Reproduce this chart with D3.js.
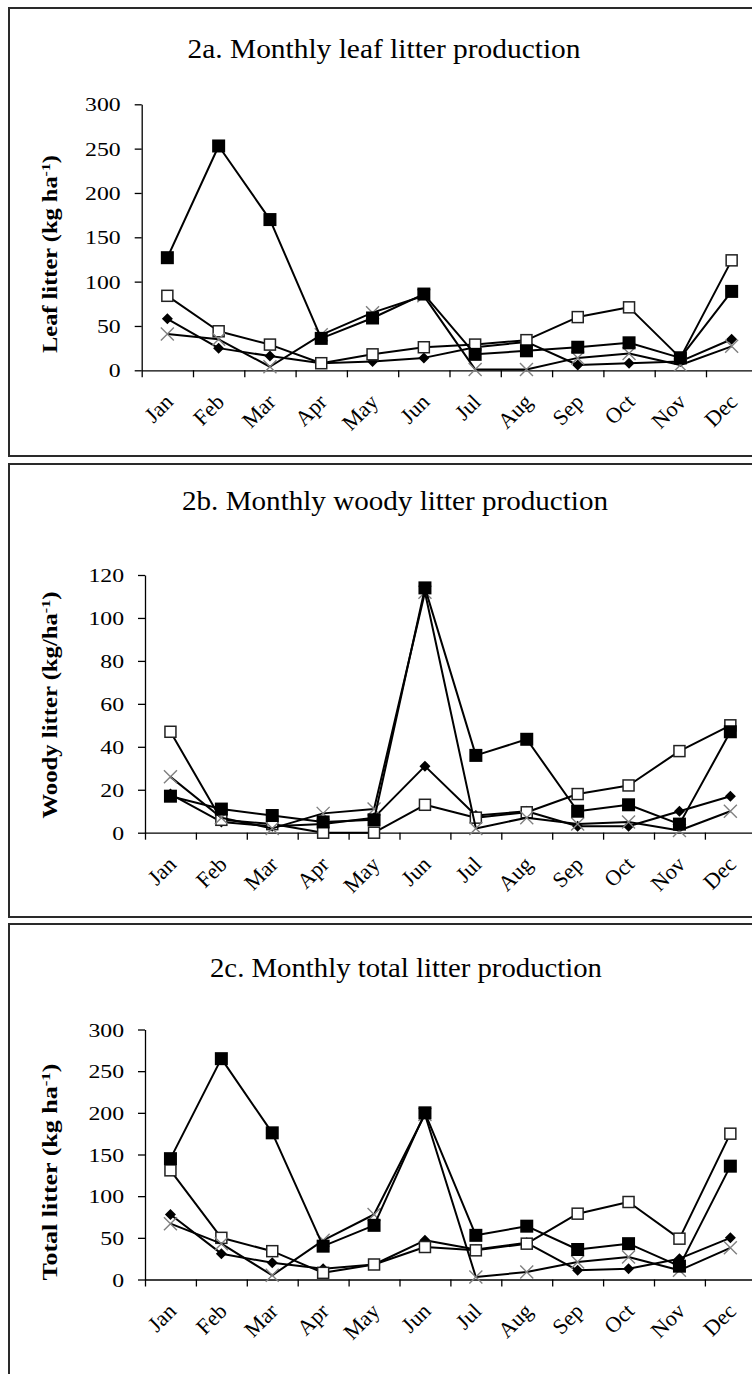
<!DOCTYPE html>
<html><head><meta charset="utf-8">
<script src="https://cdn.jsdelivr.net/npm/d3@7/dist/d3.min.js"></script>
<style>
body{margin:0;background:#fff}
svg{display:block}
text{font-family:"Liberation Serif","Times New Roman",serif;fill:#000}
</style>
</head><body>
<svg id="c" width="752" height="1374"></svg>
<script>
// ---------------- data ----------------
const months = ["Jan","Feb","Mar","Apr","May","Jun","Jul","Aug","Sep","Oct","Nov","Dec"];

const titles = ["2a. Monthly leaf litter production",
                "2b. Monthly woody litter production",
                "2c. Monthly total litter production"];
const yLabelMain = ["Leaf litter (kg ha", "Woody litter (kg/ha", "Total litter (kg ha"];
const yLabelSup = "-1";

const leafTicks  = [0, 50, 100, 150, 200, 250, 300];
const woodyTicks = [0, 20, 40, 60, 80, 100, 120];
const totalTicks = [0, 50, 100, 150, 200, 250, 300];

// series: diamond, open square, cross, filled square
const leafDiamond  = [58, 25, 16, 8, 10, 14, 26, 32, 6, 8, 10, 35];
const leafOpenSq   = [84, 44, 29, 8, 18, 26, 29, 34, 60, 71, 14, 124];
const leafCross    = [41, 35, 4, 40, 65, 84, 1, 1, 14, 19, 6, 27];
const leafFilledSq = [127, 253, 170, 36, 59, 86, 18, 22, 26, 31, 14, 89];

const woodyDiamond  = [18, 5, 3, 4, 7, 31, 8, 10, 3, 3, 10, 17];
const woodyOpenSq   = [47, 6, 4, 0, 0, 13, 7, 9.5, 18, 22, 38, 50];
const woodyCross    = [26, 7, 2, 9, 11, 112, 2, 7, 4, 5, 1, 10];
const woodyFilledSq = [17, 11, 8, 5, 6, 114, 36, 43.5, 10, 13, 4, 47];

const totalDiamond  = [78, 31, 20, 13, 18, 47, 36, 44, 11, 13, 25, 50];
const totalOpenSq   = [131, 50, 34, 8, 18, 39, 35, 43, 79, 93, 49, 175];
const totalCross    = [67, 43, 5, 47, 78, 198, 3, 9, 21, 27, 11, 38];
const totalFilledSq = [145, 265, 176, 40, 65, 200, 53, 64, 36, 43, 16, 136];

// ---------------- layout ----------------
const panels = [
  {title: titles[0], ylab: yLabelMain[0], ticks: leafTicks,
   series: [["diamond", leafDiamond], ["open", leafOpenSq], ["cross", leafCross], ["filled", leafFilledSq]],
   frameTop: 8, frameBot: 456, titleX: 384, titleY: 58, titleLen: 393,
   x0: 141.7, bw: 51.3, yTop: 104.3, yBot: 370.3, ylabY: 254, ylabLen: 198},
  {title: titles[1], ylab: yLabelMain[1], ticks: woodyTicks,
   series: [["diamond", woodyDiamond], ["open", woodyOpenSq], ["cross", woodyCross], ["filled", woodyFilledSq]],
   frameTop: 464, frameBot: 917, titleX: 395, titleY: 510, titleLen: 426,
   x0: 145, bw: 50.9, yTop: 575, yBot: 832.7, ylabY: 705, ylabLen: 227},
  {title: titles[2], ylab: yLabelMain[2], ticks: totalTicks,
   series: [["diamond", totalDiamond], ["open", totalOpenSq], ["cross", totalCross], ["filled", totalFilledSq]],
   frameTop: 924, frameBot: 1400, titleX: 406, titleY: 977, titleLen: 392,
   x0: 145, bw: 50.9, yTop: 1029.5, yBot: 1279.5, ylabY: 1172, ylabLen: 217}
];

const svg = d3.select("#c");
svg.append("rect").attr("width", 752).attr("height", 1374).attr("fill", "#fff");

const SX = 1.25; // horizontal stretch of tick labels

panels.forEach(p => {
  const g = svg.append("g");
  // frame
  g.append("rect").attr("x", 9).attr("y", p.frameTop)
    .attr("width", 800).attr("height", p.frameBot - p.frameTop)
    .attr("fill", "none").attr("stroke", "#2a2a2a").attr("stroke-width", 2);

  // title
  g.append("text").attr("x", p.titleX).attr("y", p.titleY)
    .attr("text-anchor", "middle").attr("font-size", 27)
    .attr("textLength", p.titleLen).attr("lengthAdjust", "spacingAndGlyphs")
    .text(p.title);

  // y label
  const yl = g.append("text")
    .attr("transform", `translate(57,${p.ylabY}) rotate(-90)`)
    .attr("text-anchor", "middle").attr("font-size", 20).attr("font-weight", "bold")
    .attr("textLength", p.ylabLen).attr("lengthAdjust", "spacingAndGlyphs");
  yl.append("tspan").text(p.ylab);
  yl.append("tspan").attr("dy", -7).attr("font-size", 13).text(yLabelSup);
  yl.append("tspan").attr("dy", 7).text(")");

  const ymax = p.ticks[p.ticks.length - 1];
  const y = d3.scaleLinear().domain([0, ymax]).range([p.yBot, p.yTop]);
  const xEnd = p.x0 + 12 * p.bw;
  const xb = d3.scaleBand().domain(months).range([p.x0, xEnd]).padding(0);
  const xl = d3.scaleLinear().domain([0, 12]).range([p.x0, xEnd]);
  const cx = (i) => xb(months[i]) + p.bw / 2;

  // y axis
  const ya = g.append("g").attr("transform", `translate(${p.x0},0)`)
    .call(d3.axisLeft(y).tickValues(p.ticks).tickSize(7).tickSizeOuter(0));
  ya.select(".domain").attr("stroke", "#000").attr("stroke-width", 1.3);
  ya.selectAll(".tick line").attr("stroke", "#000").attr("stroke-width", 1.3);
  ya.selectAll(".tick text").attr("font-family", null).attr("font-size", 19)
    .attr("x", -21 / SX).attr("dy", "0.35em").attr("transform", `scale(${SX},1)`)
    .attr("fill", "#000");

  // x axis (ticks between categories)
  const xa = g.append("g").attr("transform", `translate(0,${p.yBot})`)
    .call(d3.axisBottom(xl).tickValues(d3.range(13)).tickSize(7).tickSizeOuter(0).tickFormat(""));
  xa.select(".domain").attr("stroke", "#000").attr("stroke-width", 1.3);
  xa.selectAll(".tick line").attr("stroke", "#000").attr("stroke-width", 1.3);

  // month labels
  const mb = d3.axisBottom(xb).tickSize(0);
  const ma = g.append("g").attr("transform", `translate(0,${p.yBot})`).call(mb);
  ma.select(".domain").remove();
  ma.selectAll(".tick text").attr("font-family", null).attr("font-size", 22).attr("fill", "#000")
    .attr("text-anchor", "end").attr("y", 0).attr("dy", 0)
    .attr("transform", "translate(7,33) rotate(-45)");

  const line = d3.line().x((d, i) => cx(i)).y(d => y(d));

  p.series.forEach(([kind, vals]) => {
    g.append("path").datum(vals).attr("d", line)
      .attr("fill", "none").attr("stroke", "#000").attr("stroke-width", 2)
      .attr("stroke-linejoin", "round");
    const mk = g.append("g").selectAll("g").data(vals).join("g")
      .attr("transform", (d, i) => `translate(${cx(i)},${y(d)})`);
    if (kind === "filled") {
      mk.append("rect").attr("x", -6.5).attr("y", -6.5).attr("width", 13).attr("height", 13).attr("fill", "#000");
    } else if (kind === "open") {
      mk.append("rect").attr("x", -5.5).attr("y", -5.5).attr("width", 11).attr("height", 11)
        .attr("fill", "#fff").attr("stroke", "#222").attr("stroke-width", 1.5);
    } else if (kind === "diamond") {
      mk.append("path").attr("d", "M0,-5.5L5.5,0L0,5.5L-5.5,0Z").attr("fill", "#000");
    } else {
      mk.append("path").attr("d", "M-6.5,-6.5L6.5,6.5M-6.5,6.5L6.5,-6.5").attr("fill", "none")
        .attr("stroke", "#808080").attr("stroke-width", 1.4);
    }
  });
});
</script>
</body></html>
